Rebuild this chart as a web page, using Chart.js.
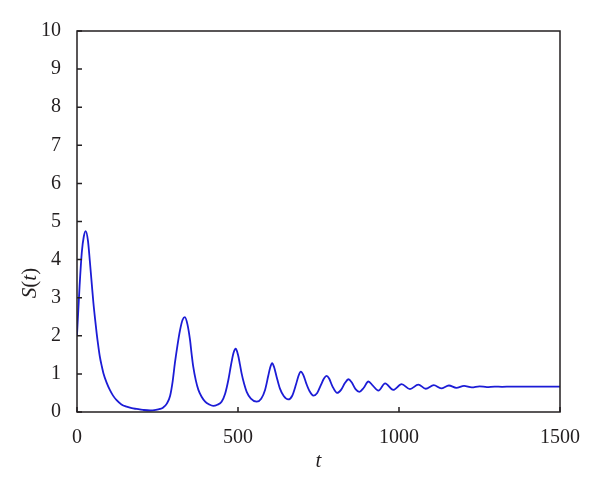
<!DOCTYPE html>
<html>
<head>
<meta charset="utf-8">
<script src="https://cdn.jsdelivr.net/npm/chart.js@4.4.0/dist/chart.umd.min.js"></script>
<style>
  html, body { margin: 0; padding: 0; background: #fff; }
  #wrap { width: 600px; height: 492px; }
</style>
</head>
<body>
<div id="wrap"><canvas id="chart" width="600" height="492"></canvas></div>
<script>
// values
const tVals = [
    0, 8, 15, 21, 27, 34, 40, 46, 51, 56, 61, 66, 71, 77, 82, 92, 102, 112, 123, 138,
    154, 170, 185, 205, 227, 245, 258, 268, 279, 289, 297, 304, 312, 320, 328, 335, 343, 351, 356, 361,
    369, 377, 387, 398, 410, 423, 436, 449, 460, 470, 478, 486, 493, 500, 506, 511, 519, 527, 540, 558,
    572, 584, 594, 600, 606, 612, 620, 630, 642, 656, 668, 680, 688, 695, 703, 712, 722, 734, 746, 758,
    767, 775, 783, 793, 808, 820, 832, 843, 853, 865, 877, 890, 905, 918, 936, 957, 982, 1008, 1034, 1060,
    1083, 1108, 1131, 1155, 1178, 1202, 1226, 1250, 1273, 1297, 1320, 1350, 1500
];
const sVals = [
    2.02, 3.3, 4.2, 4.6, 4.75, 4.5, 3.95, 3.35, 2.86, 2.45, 2.07, 1.74, 1.45, 1.2, 1.02, 0.77, 0.58, 0.43, 0.31, 0.2,
    0.14, 0.1, 0.08, 0.055, 0.04, 0.055, 0.08, 0.12, 0.22, 0.42, 0.8, 1.28, 1.75, 2.15, 2.42, 2.49, 2.3, 1.89, 1.52, 1.19,
    0.83, 0.58, 0.4, 0.27, 0.2, 0.16, 0.19, 0.27, 0.48, 0.84, 1.22, 1.55, 1.66, 1.5, 1.25, 1.02, 0.74, 0.53, 0.35, 0.27,
    0.35, 0.58, 0.95, 1.17, 1.28, 1.18, 0.92, 0.62, 0.42, 0.33, 0.42, 0.72, 0.95, 1.06, 0.97, 0.75, 0.55, 0.43, 0.5, 0.72,
    0.88, 0.95, 0.88, 0.68, 0.5, 0.58, 0.76, 0.86, 0.78, 0.6, 0.53, 0.63, 0.8, 0.7, 0.56, 0.75, 0.58, 0.73, 0.6, 0.72,
    0.61, 0.705, 0.62, 0.695, 0.635, 0.685, 0.645, 0.675, 0.655, 0.668, 0.662, 0.665, 0.665
];
const xTicks = [0, 500, 1000, 1500];
const yTicks = [0, 1, 2, 3, 4, 5, 6, 7, 8, 9, 10];

const ink = '#231f20';
const tickFont = { family: 'Liberation Serif', size: 20 };

const points = tVals.map((t, i) => ({ x: t, y: sVals[i] }));

// box round the plot, inward ticks and the two axis titles
const framePlugin = {
    id: 'frame',
    afterDatasetsDraw(chart) {
        const ctx = chart.ctx;
        const a = chart.chartArea;
        const xs = chart.scales.x, ys = chart.scales.y;
        ctx.save();
        ctx.strokeStyle = ink;
        ctx.lineWidth = 1.5;
        ctx.strokeRect(a.left, a.top, a.right - a.left, a.bottom - a.top);
        ctx.beginPath();
        xTicks.forEach(v => {
            const px = xs.getPixelForValue(v);
            ctx.moveTo(px, a.bottom);
            ctx.lineTo(px, a.bottom - 5);
        });
        yTicks.forEach(v => {
            const py = ys.getPixelForValue(v);
            ctx.moveTo(a.left, py);
            ctx.lineTo(a.left + 5, py);
        });
        ctx.stroke();

        ctx.fillStyle = ink;
        ctx.textBaseline = 'middle';
        // x title
        ctx.font = 'italic 21px "Liberation Serif"';
        ctx.textAlign = 'center';
        ctx.fillText('t', (a.left + a.right) / 2, 461);
        // y title, rotated
        ctx.translate(30, 283);
        ctx.rotate(-Math.PI / 2);
        const parts = [['S', 'italic'], ['(', 'normal'], ['t', 'italic'], [')', 'normal']];
        let w = 0;
        parts.forEach(p => { ctx.font = p[1] + ' 21px "Liberation Serif"'; w += ctx.measureText(p[0]).width; });
        let x0 = -w / 2;
        ctx.textAlign = 'left';
        parts.forEach(p => {
            ctx.font = p[1] + ' 21px "Liberation Serif"';
            ctx.fillText(p[0], x0, 0);
            x0 += ctx.measureText(p[0]).width;
        });
        ctx.restore();
    }
};

new Chart(document.getElementById('chart'), {
    type: 'line',
    data: {
        datasets: [{
            data: points,
            borderColor: '#1c1cd6',
            borderWidth: 1.8,
            pointRadius: 0,
            fill: false,
            cubicInterpolationMode: 'monotone'
        }]
    },
    options: {
        responsive: false,
        animation: false,
        layout: { padding: { left: 0, top: 31, right: 40, bottom: 0 } },
        plugins: {
            legend: { display: false },
            tooltip: { enabled: false }
        },
        scales: {
            x: {
                type: 'linear',
                min: 0,
                max: 1500,
                afterBuildTicks: s => { s.ticks = xTicks.map(v => ({ value: v })); },
                afterFit: s => { s.height = 80; },
                grid: { display: false },
                border: { display: false },
                ticks: { color: ink, font: tickFont, padding: 6, maxRotation: 0, callback: v => String(v) }
            },
            y: {
                min: 0,
                max: 10,
                afterBuildTicks: s => { s.ticks = yTicks.map(v => ({ value: v })); },
                afterFit: s => { s.width = 77; },
                grid: { display: false },
                border: { display: false },
                ticks: { color: ink, font: tickFont, padding: 8, callback: v => String(v) }
            }
        }
    },
    plugins: [framePlugin]
});
</script>
</body>
</html>
